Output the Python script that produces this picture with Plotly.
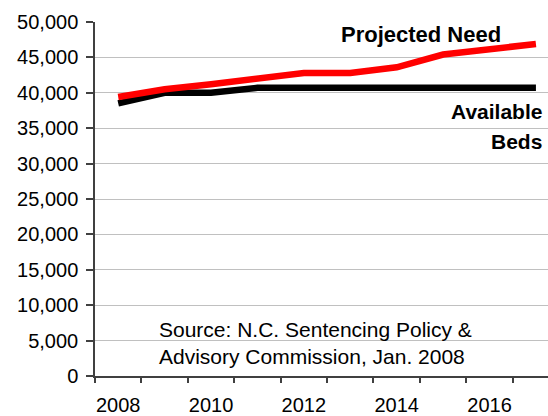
import plotly.graph_objects as go

years = [2008, 2009, 2010, 2011, 2012, 2013, 2014, 2015, 2016, 2017]
projected_need = [39400, 40500, 41200, 42000, 42800, 42800, 43600, 45400, 46100, 46900]
available_beds = [38500, 40000, 40000, 40700, 40700, 40700, 40700, 40700, 40700, 40700]
x_tick_labels = ["2008", "2010", "2012", "2014", "2016"]
x_tick_years = [2008, 2010, 2012, 2014, 2016]

FONT = "Liberation Sans, Arial, sans-serif"

fig = go.Figure()
fig.add_trace(go.Scatter(x=years, y=available_beds, mode="lines",
                         line=dict(color="#000000", width=6.5), name="Available Beds"))
fig.add_trace(go.Scatter(x=years, y=projected_need, mode="lines",
                         line=dict(color="#ff0000", width=6.5), name="Projected Need"))

boundaries = [y - 0.5 for y in years] + [years[-1] + 0.5]

fig.update_layout(
    width=548, height=416,
    margin=dict(l=95, r=0, t=22, b=40, autoexpand=False),
    paper_bgcolor="white", plot_bgcolor="white",
    showlegend=False,
    font=dict(family=FONT, color="#000000"),
    xaxis=dict(
        range=[2007.5, 2017.26], automargin=False,
        tickmode="array", tickvals=x_tick_years, ticktext=x_tick_labels,
        ticks="", showgrid=False, zeroline=False,
        showline=True, linecolor="#404040", linewidth=1.5,
        tickfont=dict(size=20, family=FONT),
        ticklabelstandoff=10,
        minor=dict(tickmode="array", tickvals=boundaries, ticks="outside",
                   ticklen=5, tickcolor="#404040", tickwidth=1.5, showgrid=False),
    ),
    yaxis=dict(
        range=[0, 50000], automargin=False, tickmode="linear", tick0=0, dtick=5000,
        tickformat=",d", ticks="outside", ticklen=7, tickcolor="#404040", tickwidth=1.5,
        showgrid=True, gridcolor="#c0c0c0", gridwidth=1,
        zeroline=False, showline=True, linecolor="#404040", linewidth=1.5,
        tickfont=dict(size=20, family=FONT),
        ticklabelstandoff=4,
    ),
)

fig.add_annotation(x=2014.53, y=48300, xref="x", yref="y", text="<b>Projected Need</b>",
                   showarrow=False, xanchor="center", yanchor="middle",
                   font=dict(size=22, family=FONT, color="#000000"))
fig.add_annotation(x=2017.175, y=37300, xref="x", yref="y", text="<b>Available</b>",
                   showarrow=False, xanchor="right", yanchor="middle",
                   font=dict(size=21, family=FONT, color="#000000"))
fig.add_annotation(x=2017.175, y=33060, xref="x", yref="y", text="<b>Beds</b>",
                   showarrow=False, xanchor="right", yanchor="middle",
                   font=dict(size=21, family=FONT, color="#000000"))
fig.add_annotation(x=2008.835, y=4730, xref="x", yref="y",
                   text="Source: N.C. Sentencing Policy &amp;<br>Advisory Commission, Jan. 2008",
                   showarrow=False, xanchor="left", yanchor="middle", align="left",
                   font=dict(size=21, family=FONT, color="#000000"))

# remove the browser's default 8px page margin so the figure fills the window exactly
fig.write_html("out.html", config={"displayModeBar": False},
               post_script="document.body.style.margin='0';")
